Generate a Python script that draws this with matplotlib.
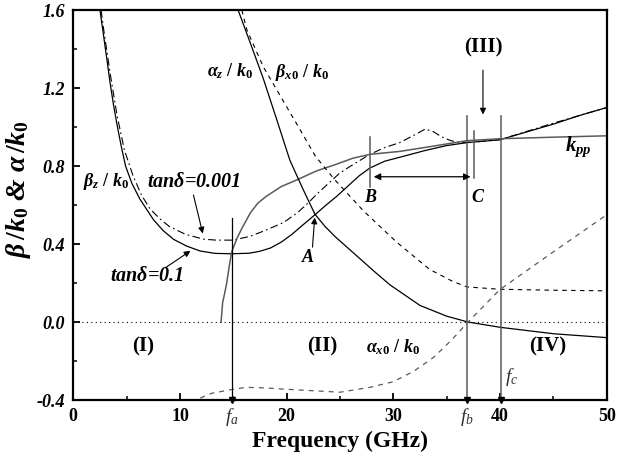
import matplotlib.pyplot as plt

plt.rcParams['font.family'] = ['Liberation Serif', 'DejaVu Serif']
plt.rcParams['mathtext.fontset'] = 'custom'
plt.rcParams['mathtext.rm'] = 'Liberation Serif:bold'
plt.rcParams['mathtext.it'] = 'Liberation Serif:bold:italic'
plt.rcParams['mathtext.bf'] = 'Liberation Serif:bold'
plt.rcParams['mathtext.sf'] = 'Liberation Serif:italic'

# beta_z / k0, tan delta = 0.1 (solid)
f_beta1 = [2.5, 2.81, 3.14, 3.44, 3.75, 4.07, 4.5, 4.9, 5.5, 6.25, 7.5, 8.4, 9.4, 10.6, 11.9, 13.3, 14.85,
           16.5, 17.5, 18.5, 19.5, 20.5, 21.5, 22.65, 23.7, 24.7, 25.8, 26.8, 27.8, 29.2, 30.6, 33.0, 35.0,
           36.9, 40.0, 42.5, 45.0, 47.5, 50.0]
beta1 = [1.6, 1.48, 1.35, 1.23, 1.12, 1.02, 0.90, 0.80, 0.71, 0.63, 0.526, 0.47, 0.424, 0.39, 0.364, 0.352, 0.35,
         0.353, 0.363, 0.38, 0.41, 0.45, 0.497, 0.55, 0.60, 0.645, 0.70, 0.75, 0.79, 0.825, 0.845, 0.88, 0.905,
         0.92, 0.935, 0.975, 1.015, 1.06, 1.10]

# beta_z / k0, tan delta = 0.001 (dash-dot)
f_beta2 = [2.6, 2.9, 3.5, 4.1, 4.8, 5.6, 6.4, 7.2, 8.1, 9.0, 10.5, 12.2, 13.4, 15.0, 16.6, 18.0, 19.7, 21.0,
           22.0, 23.0, 24.1, 25.0, 26.0, 27.8, 29.2, 30.6, 32.0, 33.0, 33.8, 34.5, 35.4, 36.3, 38.0, 40.0, 45.0, 50.0]
beta2 = [1.6, 1.48, 1.26, 1.06, 0.88, 0.75, 0.65, 0.58, 0.53, 0.49, 0.45, 0.425, 0.42, 0.42, 0.44, 0.47, 0.51, 0.56,
         0.61, 0.665, 0.72, 0.765, 0.80, 0.86, 0.895, 0.92, 0.96, 0.99, 0.975, 0.95, 0.93, 0.92, 0.925, 0.935, 1.02, 1.10]

# second branch rising from zero towards k_pp (grey solid)
f_beta3 = [13.85, 14.0, 14.2, 14.38, 14.6, 14.85, 15.35, 15.8, 16.6, 17.3, 18.1, 19.5, 21.0, 22.8, 24.7, 26.2,
           27.8, 30.6, 33.5, 36.9, 40.0, 45.0, 50.0]
beta3 = [0.0, 0.1, 0.15, 0.2, 0.28, 0.36, 0.43, 0.48, 0.56, 0.61, 0.645, 0.695, 0.73, 0.775, 0.81, 0.84,
         0.86, 0.875, 0.90, 0.93, 0.94, 0.948, 0.955]

# alpha_z / k0 (solid)
f_alphaz = [15.45, 16.6, 17.8, 19.0, 20.3, 21.5, 22.65, 23.6, 24.6, 26.6, 28.2, 29.7, 32.5, 35.0, 37.0, 40.0,
            45.0, 50.0]
alphaz = [1.6, 1.43, 1.25, 1.05, 0.83, 0.685, 0.553, 0.49, 0.435, 0.338, 0.26, 0.19, 0.085, 0.03, 0.0, -0.027,
          -0.06, -0.08]

# beta_x0 / k0 (dashed)
f_betax = [15.8, 16.26, 17.8, 19.4, 20.9, 22.7, 24.5, 27.2, 30.3, 33.4, 35.5, 36.9, 40.0, 45.0, 50.0]
betax = [1.6, 1.5, 1.31, 1.16, 1.02, 0.85, 0.73, 0.57, 0.41, 0.27, 0.21, 0.18, 0.168, 0.163, 0.16]

# alpha_x0 / k0 (dashed)
f_alphax = [11.9, 13.0, 15.0, 16.2, 18.0, 20.0, 25.0, 27.8, 30.0, 31.9, 33.8, 35.5, 37.0, 40.0, 45.0, 50.0]
alphax = [-0.39, -0.365, -0.345, -0.335, -0.338, -0.345, -0.36, -0.335, -0.306, -0.253, -0.18, -0.09, 0.0,
          0.167, 0.36, 0.55]

# marker frequencies
fa, fb, fc = 14.9, 36.95, 40.05
fB, fC = 27.8, 37.6

grey = '#5a5a5a'

fig = plt.figure(figsize=(6.17, 4.57), dpi=100)
ax = fig.add_axes([0.1188, 0.1247, 0.8645, 0.8533])

ax.plot(f_beta1, beta1, color='k', lw=0.9)
ax.plot(f_beta2, beta2, color='k', lw=0.8, linestyle=(0, (7, 3, 1.5, 3)))
ax.plot(f_beta3, beta3, color=grey, lw=1.1)
ax.plot(f_alphaz, alphaz, color='k', lw=0.9)
ax.plot(f_betax, betax, color='k', lw=0.8, linestyle=(0, (4, 4)))
ax.plot(f_alphax, alphax, color=grey, lw=0.9, linestyle=(0, (4, 4)))
ax.axhline(0, color='k', lw=0.8, linestyle=(0, (1, 3)))

# vertical marker lines
ax.plot([fa, fa], [-0.4, 0.535], color='k', lw=0.9)
ax.plot([fB, fB], [0.69, 0.95], color=grey, lw=1.1)
ax.plot([fC, fC], [0.74, 0.98], color=grey, lw=1.1)
ax.plot([fb, fb], [-0.4, 1.055], color=grey, lw=1.1)
ax.plot([fc, fc], [-0.4, 1.055], color=grey, lw=1.1)
ax.plot([fa, fb, fc], [-0.4, -0.4, -0.4], 'kv', ms=5, clip_on=False)

# arrows
arr = dict(arrowstyle='-|>', color='k', lw=0.8, mutation_scale=9)
ax.annotate('', xy=(12.2, 0.44), xytext=(11.2, 0.665), arrowprops=arr)
ax.annotate('', xy=(11.2, 0.373), xytext=(8.4, 0.27), arrowprops=arr)
ax.annotate('', xy=(22.65, 0.55), xytext=(22.4, 0.37), arrowprops=arr)
ax.annotate('', xy=(38.4, 1.05), xytext=(38.4, 1.306), arrowprops=arr)
ax.annotate('', xy=(27.9, 0.745), xytext=(37.5, 0.745),
            arrowprops=dict(arrowstyle='<|-|>', color='k', lw=0.9, mutation_scale=10))

# text labels
tk = dict(fontsize=13, ha='center', va='center')
bi = dict(fontsize=14.5, fontweight='bold', fontstyle='italic', ha='center', va='center')
ax.text(14.7, 1.286, r'$\alpha_z\ /\ k_0$', **tk)
ax.text(21.4, 1.28, r'$\beta_{x0}\ /\ k_0$', **tk)
ax.text(3.1, 0.72, r'$\beta_z\ /\ k_0$', **tk)
ax.text(11.3, 0.72, r'tan$\delta$=0.001', **bi)
ax.text(6.9, 0.234, r'tan$\delta$=0.1', **bi)
ax.text(30.0, -0.13, r'$\alpha_{x0}\ /\ k_0$', **tk)
ax.text(47.3, 0.90, r'$k_{pp}$', fontsize=15, ha='center', va='center')
for lab, x, y in [('A', 22.0, 0.33), ('B', fB, 0.64), ('C', 37.9, 0.64)]:
    ax.text(x, y, lab, fontsize=13, fontweight='bold', fontstyle='italic', ha='center', va='center')
for lab, x, y in [('(I)', 6.55, -0.125), ('(II)', 23.3, -0.125), ('(IV)', 44.5, -0.125), ('(III)', 38.4, 1.41)]:
    ax.text(x, y, lab, fontsize=15, fontweight='bold', ha='center', va='center')
ax.text(41.1, -0.28, r'$\mathsf{f}_\mathsf{c}$', fontsize=14, color='#333333', ha='center', va='center')
ax.text(fa, -0.485, r'$\mathsf{f}_\mathsf{a}$', fontsize=14, color='#333333', ha='center', va='center')
ax.text(fb, -0.485, r'$\mathsf{f}_\mathsf{b}$', fontsize=14, color='#333333', ha='center', va='center')

# axes
ax.set_xlim(0, 50)
ax.set_ylim(-0.4, 1.6)
ax.set_xticks([0, 10, 20, 30, 40, 50])
ax.set_xticks([5, 15, 25, 35, 45], minor=True)
ax.set_yticks([-0.4, 0.0, 0.4, 0.8, 1.2, 1.6])
ax.set_yticks([-0.2, 0.2, 0.6, 1.0, 1.4], minor=True)
ax.set_yticklabels(['-0.4', '0.0', '0.4', '0.8', '1.2', '1.6'], fontweight='bold', fontstyle='italic', fontsize=13)
ax.set_xticklabels(['0', '10', '20', '30', '40', '50'], fontweight='bold', fontsize=13)
ax.tick_params(which='major', direction='in', length=5, width=1.3, top=False, right=False, pad=6)
ax.tick_params(which='minor', direction='in', length=3, width=1.1, top=False, right=False)
for s in ax.spines.values():
    s.set_linewidth(1.6)
ax.set_xlabel('Frequency (GHz)', fontsize=17, fontweight='bold', labelpad=4)
ax.set_ylabel(r'$\beta\,/k_0$ & $\alpha\,/k_0$', fontsize=20, fontweight='bold', fontstyle='italic')
ax.yaxis.set_label_coords(-0.075, 0.54)

plt.savefig('out.png', dpi=100)
